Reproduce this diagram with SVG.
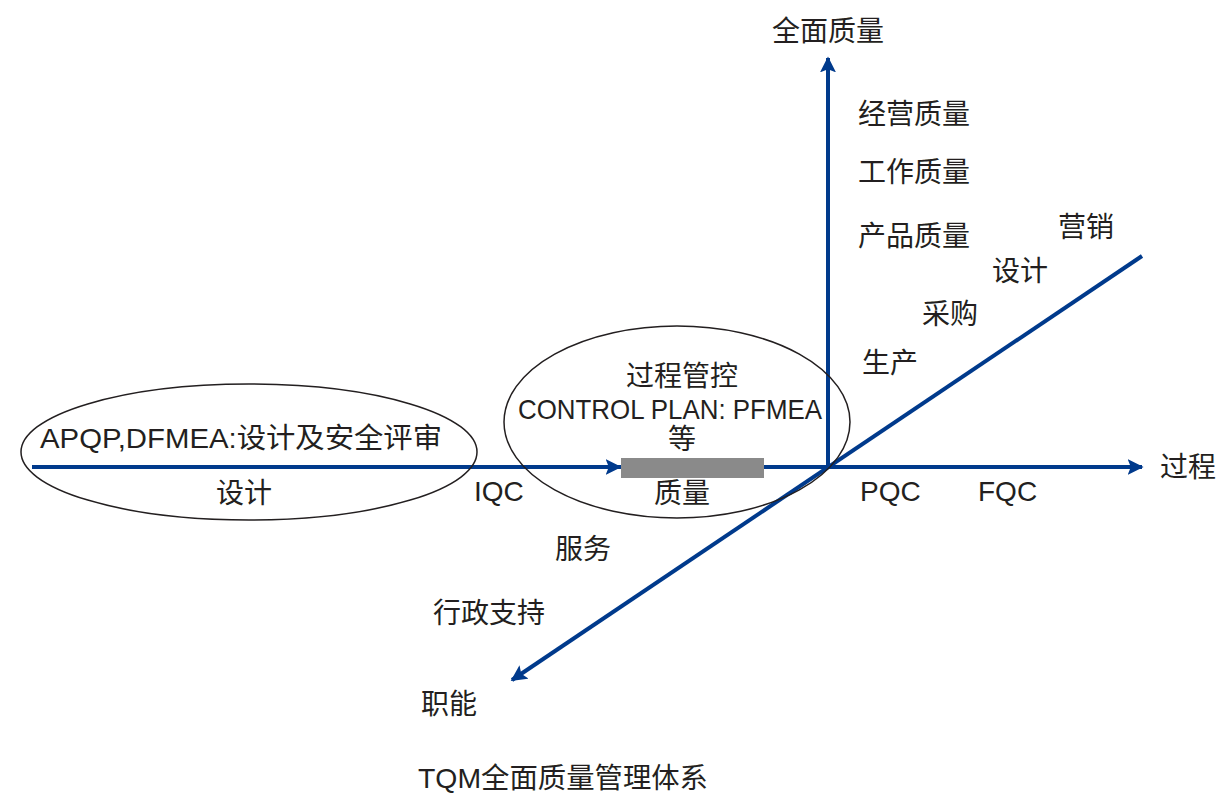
<svg xmlns="http://www.w3.org/2000/svg" width="1220" height="795" viewBox="0 0 1220 795">
<defs>
<style>
.t{font-family:"Liberation Sans","Noto Sans CJK SC",sans-serif;font-size:28px;fill:#231f20;}
.c{text-anchor:middle;}
.ax{stroke:#003a8c;stroke-width:4;fill:none;}
.el{stroke:#231f20;stroke-width:1.5;fill:none;}
</style>
<marker id="ah" viewBox="0 0 10 10" refX="9" refY="5" markerWidth="4" markerHeight="4" orient="auto" markerUnits="strokeWidth">
<path d="M0,0 L10,5 L0,10 L2,5 Z" fill="#003a8c"/>
</marker>
</defs>
<rect width="1220" height="795" fill="#fff"/>
<g id="connectors">
<line class="ax" x1="32" y1="467" x2="1142" y2="467" marker-end="url(#ah)"/>
<line class="ax" x1="32" y1="467" x2="620" y2="467" marker-end="url(#ah)"/>
<line class="ax" x1="828" y1="467" x2="828" y2="58" marker-end="url(#ah)"/>
<line class="ax" x1="1142" y1="256" x2="512" y2="680" marker-end="url(#ah)"/>
</g>
<g id="design-ellipse">
<ellipse class="el" cx="249" cy="452" rx="228" ry="68"/>
<text class="t" x="40" y="448" textLength="402" lengthAdjust="spacingAndGlyphs">APQP,DFMEA:设计及安全评审</text>
<text class="t c" x="244" y="503">设计</text>
</g>
<g id="process-ellipse">
<ellipse class="el" cx="677" cy="422" rx="173" ry="96"/>
<text class="t c" x="682" y="386">过程管控</text>
<text class="t" x="518" y="419" textLength="304" lengthAdjust="spacingAndGlyphs">CONTROL PLAN: PFMEA</text>
<text class="t c" x="682" y="449">等</text>
</g>
<g id="quality-bar">
<rect x="621" y="458" width="143" height="20" fill="#8a8a8a"/>
<text class="t c" x="682" y="503">质量</text>
</g>
<g id="labels">
<text class="t c" x="828" y="41">全面质量</text>
<text class="t" x="858" y="124">经营质量</text>
<text class="t" x="858" y="182">工作质量</text>
<text class="t" x="858" y="246">产品质量</text>
<text class="t" x="1058" y="237">营销</text>
<text class="t" x="992" y="281">设计</text>
<text class="t" x="922" y="324">采购</text>
<text class="t" x="862" y="373">生产</text>
<text class="t" x="1160" y="477">过程</text>
<text class="t" x="860" y="501">PQC</text>
<text class="t" x="978" y="501">FQC</text>
<text class="t" x="474" y="501">IQC</text>
<text class="t" x="555" y="559">服务</text>
<text class="t" x="433" y="623">行政支持</text>
<text class="t" x="421" y="714">职能</text>
<text class="t" x="418" y="788" textLength="290" lengthAdjust="spacingAndGlyphs">TQM全面质量管理体系</text>
</g>
</svg>
